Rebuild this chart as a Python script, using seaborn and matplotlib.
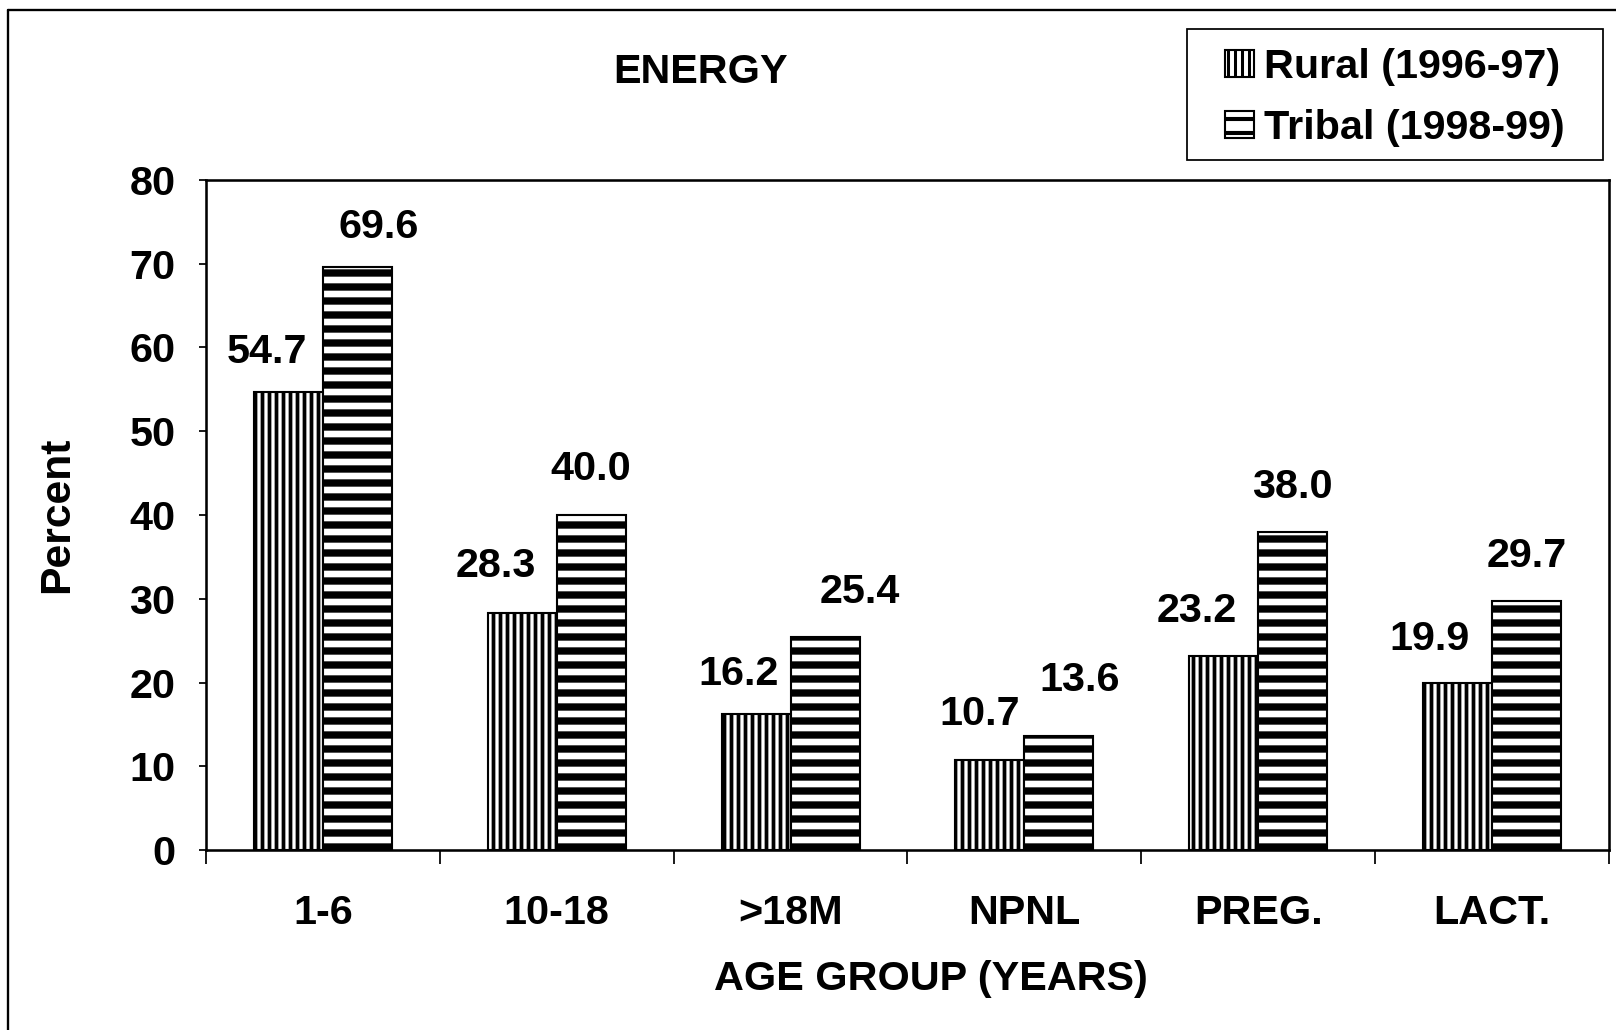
import numpy as np
import pandas as pd
import matplotlib
matplotlib.use('Agg')
import matplotlib.pyplot as plt
import seaborn as sns
from matplotlib.lines import Line2D
from matplotlib.patches import Patch, Rectangle

# data
groups = ['1-6', '10-18', '>18M', 'NPNL', 'PREG.', 'LACT.']
rural = [54.7, 28.3, 16.2, 10.7, 23.2, 19.9]
tribal = [69.6, 40.0, 25.4, 13.6, 38.0, 29.7]
series = ['Rural (1996-97)', 'Tribal (1998-99)']
yticks = [0, 10, 20, 30, 40, 50, 60, 70, 80]

# label nudges in px (x, y) so the value text sits like the original
rural_nudge = [(-21, 40), (-26, 47), (-18, 40), (-10, 46), (-27, 45), (-28, 44)]
tribal_nudge = [(21, 40), (0, 46), (35, 45), (21, 56), (0, 45), (0, 45)]

DPI = 84
FS = 35.5

sns.set_theme(style='white')
plt.rcParams['font.family'] = ['Liberation Sans', 'DejaVu Sans']
plt.rcParams['text.color'] = 'black'
plt.rcParams['axes.labelcolor'] = 'black'
plt.rcParams['xtick.color'] = 'black'
plt.rcParams['ytick.color'] = 'black'

df = pd.DataFrame({
    'group': groups * 2,
    'value': rural + tribal,
    'series': [series[0]] * len(groups) + [series[1]] * len(groups),
})

fig = plt.figure(figsize=(1616 / DPI, 1030 / DPI), dpi=DPI)
ax = fig.add_axes([206 / 1616, 1 - 850 / 1030, (1609 - 206) / 1616, (850 - 180) / 1030])

sns.barplot(data=df, x='group', y='value', hue='series', order=groups, hue_order=series,
            palette=['white', 'white'], width=0.59, edgecolor='black', linewidth=1.8,
            legend=False, ax=ax, errorbar=None)

hatches = {series[0]: '||', series[1]: '-'}
hatch_lw = {series[0]: 3.2, series[1]: 6.3}
n = len(groups)
for i, p in enumerate(ax.patches[:2 * n]):
    s = series[i // n]
    p.set_hatch(hatches[s])
    if hasattr(p, 'set_hatch_linewidth'):
        p.set_hatch_linewidth(hatch_lw[s])

# value labels
px = 72 / DPI
for i, p in enumerate(ax.patches[:2 * n]):
    nud = rural_nudge[i] if i < n else tribal_nudge[i - n]
    val = p.get_height()
    ax.annotate(f'{val:.1f}', (p.get_x() + p.get_width() / 2, val),
                xytext=(nud[0] * px, nud[1] * px), textcoords='offset points',
                ha='center', va='center', fontsize=FS, fontweight='bold')

ax.set_ylim(0, 80)
ax.set_xlim(-0.5, n - 0.5)
ax.set_yticks(yticks)
ax.set_yticklabels([str(v) for v in yticks], fontsize=FS, fontweight='bold')
ax.tick_params(axis='y', direction='out', length=6, width=1.5, pad=20, left=True)

ax.set_xticks(np.arange(n))
ax.set_xticklabels(groups, fontsize=FS, fontweight='bold')
ax.set_xticks(np.arange(n + 1) - 0.5, minor=True)
ax.tick_params(axis='x', which='major', length=0, pad=38)
ax.tick_params(axis='x', which='minor', direction='out', length=12, width=1.5, bottom=True)

for sp in ax.spines.values():
    sp.set_visible(True)
    sp.set_color('black')
    sp.set_linewidth(2.2)

ax.set_xlabel('AGE GROUP (YEARS)', fontsize=FS, fontweight='bold')
ax.set_ylabel('Percent', fontsize=FS + 1, fontweight='bold')
ax.xaxis.set_label_coords((931 - 206) / (1609 - 206), -(979 - 850) / (850 - 180))
ax.yaxis.set_label_coords(-(206 - 57) / (1609 - 206), 0.5)
ax.xaxis.label.set_va('center')
ax.yaxis.label.set_va('center')

fig.text(701 / 1616, 1 - 72 / 1030, 'ENERGY', ha='center', va='center',
         fontsize=FS, fontweight='bold')

# legend box drawn separately so its padding can match the scan
bx0, bx1, by0, by1 = 1187, 1603, 29, 160
fig.add_artist(Rectangle((bx0 / 1616, 1 - by1 / 1030), (bx1 - bx0) / 1616, (by1 - by0) / 1030,
                         transform=fig.transFigure, facecolor='white', edgecolor='black',
                         lw=1.5, zorder=5))
handles = [Patch(facecolor='white', edgecolor='black', hatch=hatches[s], linewidth=1.8)
           for s in series]
leg = fig.legend(handles, series, loc='center',
                 bbox_to_anchor=((bx0 + bx1) / 2 / 1616, 1 - (by0 + by1) / 2 / 1030 - 0.003),
                 prop={'size': FS, 'weight': 'bold'}, frameon=False,
                 handlelength=0.68, handleheight=0.62, handletextpad=0.25,
                 labelspacing=0.56, borderpad=0.0, borderaxespad=0)
leg.set_zorder(6)
for h, s in zip(leg.legend_handles, series):
    if hasattr(h, 'set_hatch_linewidth'):
        h.set_hatch_linewidth(2.6 if s == series[0] else 3.5)

# outer border of the scanned figure (top and left)
fig.add_artist(Line2D([8 / 1616, 8 / 1616], [0, 1 - 10 / 1030], transform=fig.transFigure,
                      color='black', lw=2))
fig.add_artist(Line2D([8 / 1616, 1], [1 - 10 / 1030, 1 - 10 / 1030], transform=fig.transFigure,
                      color='black', lw=2))

fig.savefig('out.png', dpi=DPI)
